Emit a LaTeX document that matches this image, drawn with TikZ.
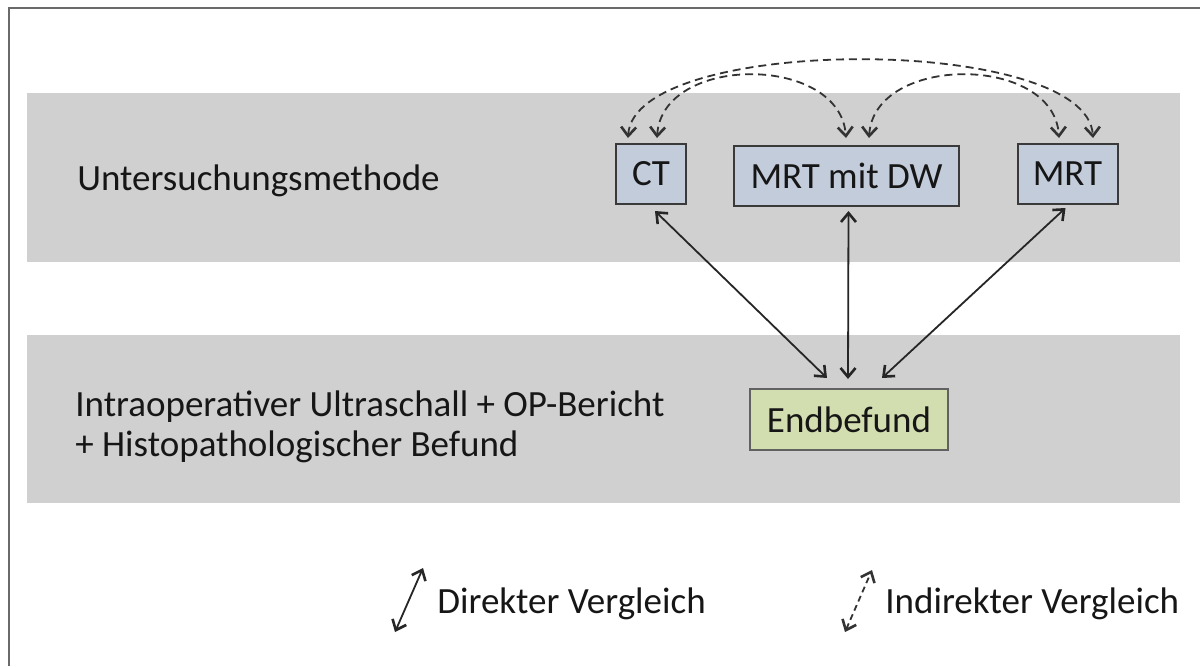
\documentclass[tikz,border=0pt]{standalone}
\usepackage{fontspec}
\setmainfont{Carlito}
\usetikzlibrary{arrows.meta,calc}
\definecolor{bandgray}{HTML}{D0D0D0}
\definecolor{boxblue}{HTML}{C2CCDA}
\definecolor{boxgreen}{HTML}{D3DEB0}
\definecolor{framegray}{HTML}{6A6A6A}
\definecolor{edgegray}{HTML}{3A3A3A}
\definecolor{txt}{HTML}{161616}
\tikzset{
  mbox/.style={draw=edgegray, line width=1pt, fill=boxblue, inner sep=0pt, text=txt},
  ebox/.style={draw=edgegray!80, line width=1pt, fill=boxgreen, inner sep=0pt, text=txt},
  lbl/.style={anchor=base west, inner sep=0pt, text=txt, align=left},
  solidarr/.style={line width=0.9pt, draw=black!85, {Straight Barb[length=4.5pt,width=7.5pt,line width=1.3pt]}-{Straight Barb[length=4.5pt,width=7.5pt,line width=1.3pt]}},
  dasharr/.style={line width=0.9pt, draw=black!80, dash pattern=on 4pt off 2.5pt, {Straight Barb[length=4.5pt,width=7.5pt,line width=1.3pt]}-{Straight Barb[length=4.5pt,width=7.5pt,line width=1.3pt]}},
  framestyle/.style={draw=framegray, line width=1.4pt}
}
\begin{document}
\begin{tikzpicture}[x=0.5pt,y=-0.5pt, font=\fontsize{18.5}{20}\selectfont]
\useasboundingbox (0,0) rectangle (1200,666);
\fill[white] (0,0) rectangle (1200,666);
% bands
\fill[bandgray] (27,93) rectangle (1180,262);
\fill[bandgray] (27,335) rectangle (1180,503);
% frame
\draw[framestyle] (1200,8) -- (9,8) -- (9,666);
% labels
\node[lbl] (lab1) at (77,190) {Untersuchungsmethode};
\node[lbl] (lab2) at (75,416) {Intraoperativer Ultraschall + OP-Bericht};
\node[lbl] (lab3) at (75,456) {+ Histopathologischer Befund};
% boxes
\node[mbox, minimum width=35pt, minimum height=30pt] (CT) at (651,174) {CT};
\node[mbox, minimum width=112.5pt, minimum height=30pt] (MD) at (846.5,176) {MRT mit DW};
\node[mbox, minimum width=50pt, minimum height=30pt] (MRT) at (1067.5,174) {MRT};
\node[ebox, minimum width=99pt, minimum height=30.5pt] (END) at (849,419.5) {Endbefund};
% solid arrows
\draw[solidarr] ($(CT.south)+(4,6)$) -- ($(END.north)+(-22,-10)$);
\draw[solidarr] ($(MD.south)+(2,4)$) -- ($(END.north)+(-1,-9)$);
\draw[solidarr] ($(MRT.south)+(-2,3)$) -- ($(END.north)+(33,-10)$);
% dashed arcs
\draw[dasharr] ($(CT.north)+(-23,-5)$) .. controls (634,34) and (1087,34) .. ($(MRT.north)+(25.5,-5)$);
\draw[dasharr] ($(CT.north)+(6,-5)$) .. controls (662,54) and (840,54) .. ($(MD.north)+(-0.5,-7)$);
\draw[dasharr] ($(MD.north)+(22.5,-7)$) .. controls (874,54) and (1054,54) .. ($(MRT.north)+(-8.5,-5)$);
% legend
\coordinate (d1) at (395,632);
\coordinate (d2) at (423,568);
\draw[solidarr] (d1) -- (d2);
\node[lbl] (leg1) at (437,613) {Direkter Vergleich};
\coordinate (i1) at (845,632);
\coordinate (i2) at (872,570);
\draw[dasharr, dash pattern=on 3pt off 2pt] (i1) -- (i2);
\node[lbl] (leg2) at (885,613) {Indirekter Vergleich};
\end{tikzpicture}
\end{document}
